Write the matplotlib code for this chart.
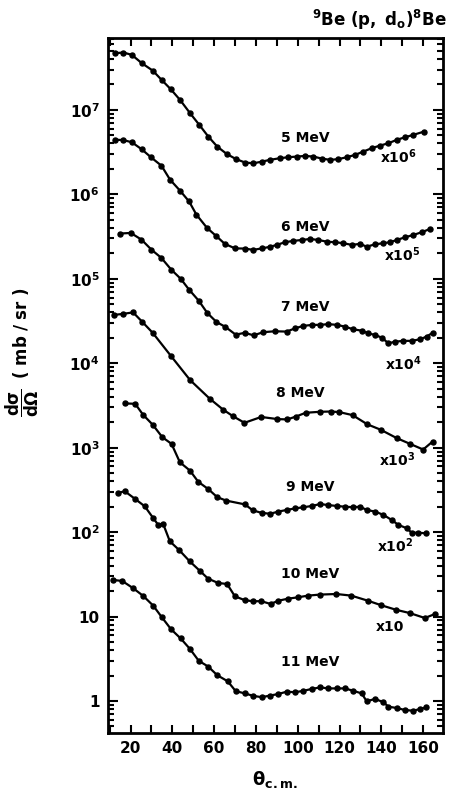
import matplotlib
matplotlib.use("Agg")
import matplotlib.pyplot as plt
import numpy as np
from matplotlib.ticker import LogLocator, FixedLocator, MultipleLocator, NullFormatter

# ---- data: theta (deg, c.m.) and dsigma/dOmega (mb/sr), unscaled ----
theta5 = [12.6, 16.6, 20.6, 25.4, 30.6, 34.9, 39.2, 43.7, 48.5, 52.9, 57.2, 61.5, 66.0, 70.5,
          74.8, 78.8, 82.8, 86.7, 91.5, 95.5, 99.5, 103.5, 107.5, 111.5, 115.5, 119.4, 123.4,
          127.4, 131.4, 135.4, 139.4, 143.4, 147.4, 151.3, 155.3, 160.4]
xs5 = [46.9, 47.8, 44.8, 35.7, 29.2, 22.6, 17.6, 13.1, 9.12, 6.64, 4.83, 3.67, 3.01, 2.61,
       2.38, 2.33, 2.44, 2.56, 2.68, 2.75, 2.80, 2.85, 2.80, 2.65, 2.56, 2.61, 2.75,
       2.93, 3.21, 3.52, 3.78, 4.03, 4.42, 4.74, 5.06, 5.53]

theta6 = [12.7, 16.5, 20.6, 25.3, 29.9, 34.8, 38.9, 43.6, 48.0, 51.5, 56.6, 61.1, 65.1, 70.0,
          74.6, 78.7, 82.8, 86.7, 90.0, 93.9, 97.9, 101.9, 105.9, 109.9, 113.9, 117.8, 121.8,
          125.8, 129.8, 133.0, 137.0, 141.0, 144.2, 147.4, 151.3, 155.3, 159.3, 163.3]
xs6 = [44.3, 43.9, 41.4, 34.2, 27.3, 21.8, 14.9, 11.1, 8.24, 5.75, 4.00, 3.19, 2.59, 2.29,
       2.28, 2.20, 2.29, 2.39, 2.52, 2.71, 2.81, 2.88, 2.96, 2.88, 2.75, 2.71, 2.64,
       2.52, 2.59, 2.40, 2.56, 2.64, 2.71, 2.88, 3.10, 3.30, 3.56, 3.89]

theta7 = [14.8, 20.1, 25.2, 30.0, 34.7, 39.5, 44.0, 48.0, 52.6, 56.7, 61.1, 65.4, 70.3, 74.6,
          78.9, 83.4, 89.0, 94.7, 98.7, 102.7, 106.7, 110.7, 114.6, 118.7, 122.6, 126.6, 130.6,
          133.8, 137.0, 140.2, 143.4, 146.6, 150.5, 154.5, 158.5, 161.7, 164.6]
xs7 = [34.3, 34.9, 29.1, 22.1, 17.7, 12.8, 10.0, 7.43, 5.51, 3.94, 3.08, 2.69, 2.18, 2.29,
       2.14, 2.33, 2.39, 2.37, 2.59, 2.77, 2.84, 2.85, 2.90, 2.85, 2.71, 2.52, 2.43,
       2.26, 2.16, 2.01, 1.72, 1.80, 1.84, 1.84, 1.92, 2.07, 2.30]

theta8 = [12.0, 16.4, 21.2, 25.6, 30.6, 39.2, 48.5, 57.9, 64.3, 69.0, 74.5, 82.5, 90.3, 95.0,
          99.0, 103.8, 110.6, 115.8, 119.8, 126.2, 133.3, 139.7, 147.3, 153.7, 160.0, 164.5]
xs8 = [37.3, 38.4, 40.0, 30.9, 22.9, 12.3, 6.31, 3.80, 2.82, 2.36, 1.97, 2.31, 2.18, 2.16,
       2.33, 2.59, 2.66, 2.68, 2.64, 2.43, 1.89, 1.63, 1.30, 1.11, 0.951, 1.18]

theta9 = [17.3, 22.2, 26.0, 30.6, 35.2, 39.6, 43.6, 48.4, 52.4, 57.2, 61.5, 65.8, 74.7, 78.5,
          82.7, 86.8, 90.7, 94.7, 98.7, 102.7, 106.7, 110.7, 114.6, 118.7, 122.6, 126.6, 129.8,
          133.0, 137.0, 141.0, 145.0, 148.1, 152.2, 154.5, 157.7, 161.4]
xs9 = [33.4, 33.1, 24.5, 18.7, 13.3, 11.1, 6.71, 5.36, 3.94, 3.23, 2.59, 2.36, 2.13, 1.81,
       1.69, 1.65, 1.75, 1.83, 1.91, 1.97, 2.04, 2.15, 2.09, 2.04, 2.00, 1.97, 2.00,
       1.83, 1.75, 1.60, 1.39, 1.22, 1.11, 0.984, 0.984, 0.968]

theta10 = [14.0, 17.2, 22.0, 26.8, 30.8, 33.2, 35.6, 38.8, 43.3, 48.3, 53.1, 57.1, 61.9, 66.2,
           69.9, 74.7, 78.6, 82.6, 87.0, 90.7, 95.4, 100.1, 104.9, 110.5, 118.5, 125.6, 133.6,
           140.0, 147.2, 153.6, 160.8, 165.6]
xs10 = [29.1, 30.5, 24.9, 20.2, 14.7, 12.2, 12.5, 7.78, 6.11, 4.51, 3.49, 2.81, 2.50, 2.43,
        1.74, 1.56, 1.52, 1.52, 1.41, 1.54, 1.63, 1.69, 1.77, 1.82, 1.85, 1.77, 1.54,
        1.36, 1.20, 1.10, 0.962, 1.07]

theta11 = [11.8, 16.0, 21.2, 26.0, 30.8, 35.0, 39.4, 44.0, 48.4, 52.6, 57.1, 61.5, 66.5, 70.3,
           74.7, 78.7, 82.8, 86.7, 90.7, 94.7, 98.7, 102.7, 106.7, 110.7, 114.6, 118.7, 122.6,
           126.6, 130.6, 133.0, 137.0, 141.0, 143.4, 147.4, 151.3, 155.3, 158.5, 161.4]
xs11 = [27.1, 26.4, 21.7, 17.6, 13.5, 9.79, 7.06, 5.50, 4.14, 3.00, 2.56, 2.02, 1.71, 1.31,
        1.23, 1.15, 1.11, 1.16, 1.21, 1.29, 1.27, 1.32, 1.39, 1.45, 1.41, 1.41, 1.41,
        1.32, 1.23, 0.991, 1.06, 0.966, 0.857, 0.826, 0.782, 0.767, 0.804, 0.841]

energies = ["5 MeV", "6 MeV", "7 MeV", "8 MeV", "9 MeV", "10 MeV", "11 MeV"]
scale_exp = [6, 5, 4, 3, 2, 1, 0]
scale_labels = [r"x$\mathbf{10^{6}}$", r"x$\mathbf{10^{5}}$", r"x$\mathbf{10^{4}}$",
                r"x$\mathbf{10^{3}}$", r"x$\mathbf{10^{2}}$", "x10", ""]

x_ticks_major = [20, 40, 60, 80, 100, 120, 140, 160]
y_tick_vals = [1, 10, 1e2, 1e3, 1e4, 1e5, 1e6, 1e7]
y_tick_labels = ["1", "10", r"$\mathbf{10^{2}}$", r"$\mathbf{10^{3}}$", r"$\mathbf{10^{4}}$",
                 r"$\mathbf{10^{5}}$", r"$\mathbf{10^{6}}$", r"$\mathbf{10^{7}}$"]

thetas = [theta5, theta6, theta7, theta8, theta9, theta10, theta11]
values = [xs5, xs6, xs7, xs8, xs9, xs10, xs11]

# ---- figure ----
plt.rcParams['font.family'] = ['DejaVu Sans']
W, H = 452, 794
fig = plt.figure(figsize=(W / 100, H / 100), dpi=100)
L, R, T, B = 108, 443, 38, 733
ax = fig.add_axes([L / W, 1 - B / H, (R - L) / W, (B - T) / H])

for th, v, e in zip(thetas, values, scale_exp):
    y = np.array(v) * 10.0 ** e
    ax.plot(th, y, '-', color='black', lw=1.6, marker='o', ms=3.6, mfc='black', mec='black',
            zorder=3)

ax.set_yscale('log')
ax.set_xlim(9.2, 169.5)
ax.set_ylim(0.418, 7.1e7)

ax.xaxis.set_major_locator(FixedLocator(x_ticks_major))
ax.xaxis.set_minor_locator(MultipleLocator(10))
ax.set_xticklabels([str(t) for t in x_ticks_major])
ax.yaxis.set_major_locator(FixedLocator(y_tick_vals))
ax.set_yticklabels(y_tick_labels)
ax.yaxis.set_minor_locator(LogLocator(base=10, subs=np.arange(2, 10), numticks=50))
ax.yaxis.set_minor_formatter(NullFormatter())

ax.tick_params(axis='both', which='both', direction='in', top=True, right=True, width=1.5)
ax.tick_params(axis='x', which='both', length=6)
ax.tick_params(axis='y', which='major', length=7)
ax.tick_params(axis='y', which='minor', length=4)
ax.tick_params(axis='both', which='major', labelsize=11, pad=6)
for lab in ax.get_xticklabels() + ax.get_yticklabels():
    lab.set_fontweight('bold')
for s in ax.spines.values():
    s.set_linewidth(2)

# labels on curves (axes fraction)
label_pos = [(0.588, 0.856), (0.588, 0.728), (0.588, 0.613), (0.573, 0.489),
             (0.603, 0.354), (0.603, 0.229), (0.603, 0.102)]
scale_pos = [(0.866, 0.829), (0.878, 0.688), (0.881, 0.532), (0.863, 0.393),
             (0.857, 0.269), (0.842, 0.153), (0.85, 0.05)]
for (lx, ly), txt in zip(label_pos, energies):
    ax.text(lx, ly, txt, transform=ax.transAxes, ha='center', va='center',
            fontsize=10, fontweight='bold')
for (sx, sy), txt in zip(scale_pos, scale_labels):
    if txt:
        ax.text(sx, sy, txt, transform=ax.transAxes, ha='center', va='center',
                fontsize=10, fontweight='bold')

fig.text(447 / W, 1 - 20 / H, r"$\mathbf{{}^{9}Be\ (p,\ d_{o})^{8}Be}$",
         ha='right', va='center', fontsize=12)
fig.text(22 / W, 1 - 352 / H,
         r"$\mathbf{\dfrac{d\sigma}{d\Omega}}$  $\mathbf{(\ mb\ /\ sr\ )}$",
         rotation=90, ha='center', va='center', fontsize=12)
fig.text(275 / W, 1 - 779 / H, r"$\mathbf{\theta_{c.m.}}$", ha='center', va='center',
         fontsize=13)

fig.savefig("out.png", dpi=100)
